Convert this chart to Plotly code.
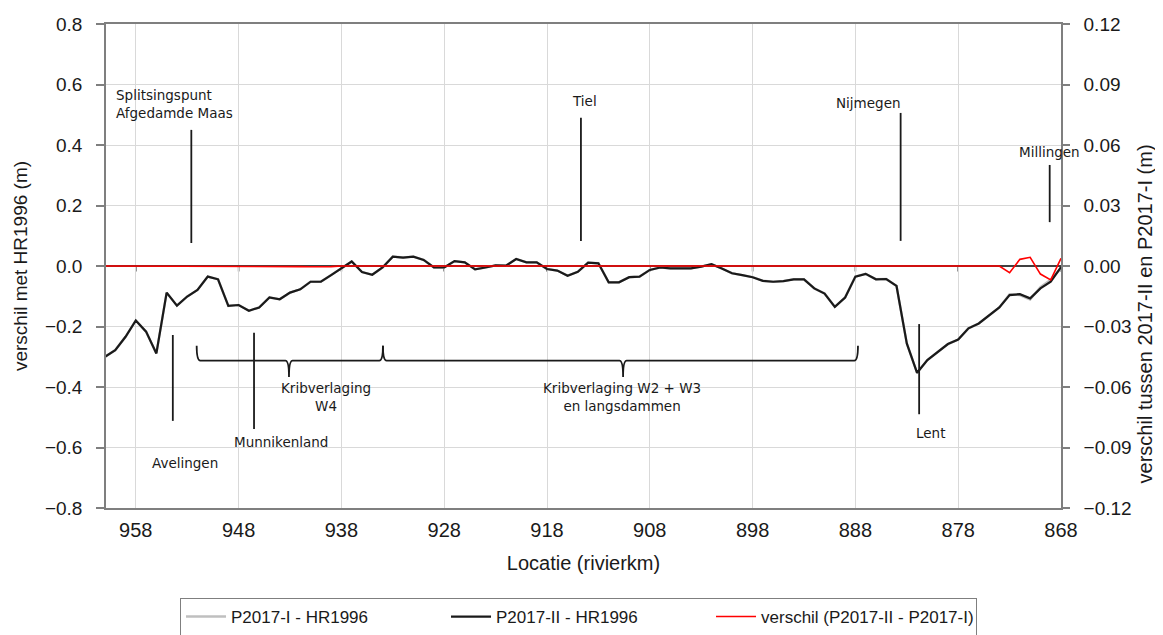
import plotly.graph_objects as go

# ---------------- data ----------------
km = [961, 960, 959, 958, 957, 956, 955, 954, 953, 952, 951, 950, 949, 948, 947, 946,
      945, 944, 943, 942, 941, 940, 939, 938, 937, 936, 935, 934, 933, 932, 931, 930,
      929, 928, 927, 926, 925, 924, 923, 922, 921, 920, 919, 918, 917, 916, 915, 914,
      913, 912, 911, 910, 909, 908, 907, 906, 905, 904, 903, 902, 901, 900, 899, 898,
      897, 896, 895, 894, 893, 892, 891, 890, 889, 888, 887, 886, 885, 884, 883, 882,
      881, 880, 879, 878, 877, 876, 875, 874, 873, 872, 871, 870, 869, 868]

p2017_II = [-0.300, -0.278, -0.234, -0.180, -0.217, -0.289, -0.088, -0.131, -0.101, -0.079,
            -0.035, -0.044, -0.132, -0.129, -0.148, -0.137, -0.104, -0.110, -0.088, -0.077,
            -0.052, -0.052, -0.030, -0.006, 0.015, -0.020, -0.029, -0.005, 0.031, 0.028,
            0.031, 0.020, -0.005, -0.005, 0.016, 0.012, -0.011, -0.005, 0.002, 0.001,
            0.023, 0.012, 0.012, -0.010, -0.015, -0.032, -0.019, 0.011, 0.009, -0.054,
            -0.054, -0.037, -0.035, -0.013, -0.005, -0.008, -0.008, -0.008, -0.002, 0.006,
            -0.008, -0.024, -0.030, -0.037, -0.049, -0.052, -0.050, -0.044, -0.044, -0.074,
            -0.091, -0.135, -0.104, -0.035, -0.026, -0.044, -0.043, -0.066, -0.256, -0.353,
            -0.311, -0.283, -0.258, -0.243, -0.206, -0.190, -0.165, -0.137, -0.096, -0.093,
            -0.107, -0.074, -0.052, -0.004]

p2017_I = [-0.300, -0.278, -0.234, -0.180, -0.217, -0.289, -0.088, -0.131, -0.101, -0.079,
           -0.035, -0.044, -0.132, -0.129, -0.148, -0.137, -0.104, -0.110, -0.088, -0.077,
           -0.052, -0.052, -0.030, -0.006, 0.015, -0.020, -0.029, -0.005, 0.031, 0.028,
           0.031, 0.020, -0.005, -0.005, 0.016, 0.012, -0.011, -0.005, 0.002, 0.001,
           0.023, 0.012, 0.012, -0.010, -0.015, -0.032, -0.019, 0.011, 0.009, -0.054,
           -0.054, -0.037, -0.035, -0.013, -0.005, -0.008, -0.008, -0.008, -0.002, 0.006,
           -0.008, -0.024, -0.030, -0.037, -0.049, -0.052, -0.050, -0.044, -0.044, -0.074,
           -0.091, -0.135, -0.104, -0.035, -0.026, -0.044, -0.043, -0.066, -0.256, -0.353,
           -0.311, -0.283, -0.258, -0.243, -0.206, -0.190, -0.165, -0.137, -0.093, -0.096,
           -0.111, -0.070, -0.045, -0.008]

verschil = [0.0, 0.0, 0.0, 0.0, 0.0, 0.0, 0.0, 0.0, 0.0, 0.0,
            0.0, 0.0, 0.0, 0.0, 0.0, 0.0, 0.0, 0.0, 0.0, -0.0003,
            -0.0004, -0.0004, -0.0003, 0.0, 0.0, -0.0003, -0.0003, 0.0, 0.0, -0.0002,
            -0.0002, 0.0, 0.0, 0.0, 0.0, 0.0, -0.0003, -0.0002, 0.0, 0.0,
            0.0, 0.0, 0.0, 0.0, 0.0, 0.0, 0.0, 0.0, 0.0, -0.0002,
            -0.0002, 0.0, 0.0, 0.0, 0.0, 0.0, 0.0, 0.0, 0.0, 0.0,
            0.0, 0.0, 0.0, 0.0, 0.0, 0.0, 0.0, 0.0, 0.0, 0.0,
            0.0, 0.0, 0.0, -0.0003, -0.0003, 0.0, 0.0, 0.0, 0.0, -0.0002,
            -0.0003, -0.0002, 0.0, 0.0, 0.0, 0.0, 0.0, 0.0, -0.0033, 0.0033,
            0.0043, -0.0040, -0.0069, 0.0038]

x_ticks = [958, 948, 938, 928, 918, 908, 898, 888, 878, 868]
y_ticks = [0.8, 0.6, 0.4, 0.2, 0.0, -0.2, -0.4, -0.6, -0.8]
y2_ticks = [0.12, 0.09, 0.06, 0.03, 0.0, -0.03, -0.06, -0.09, -0.12]

# location labels: (text, km, value, anchor)
labels = [
    ("Splitsingspunt<br>Afgedamde Maas", 960.1, 0.535, "left"),
    ("Tiel", 914.4, 0.545, "center"),
    ("Nijmegen", 886.7, 0.540, "center"),
    ("Millingen", 869.1, 0.377, "center"),
    ("Avelingen", 953.2, -0.650, "center"),
    ("Munnikenland", 943.9, -0.582, "center"),
    ("Lent", 880.7, -0.552, "center"),
    ("Kribverlaging<br>W4", 939.5, -0.432, "center"),
    ("Kribverlaging W2 + W3<br>en langsdammen", 910.7, -0.432, "center"),
]
# location marker lines: (km, value from, value to)
markers = [
    (952.6, 0.450, 0.076),
    (914.7, 0.490, 0.083),
    (883.6, 0.506, 0.083),
    (869.1, 0.334, 0.145),
    (954.4, -0.228, -0.512),
    (946.5, -0.221, -0.539),
    (881.8, -0.192, -0.490),
]
# braces: (km start, km middle, km end)
braces = [(952.08, 943.1, 933.96), (933.96, 910.6, 887.75)]
brace_y, brace_top, brace_bot = -0.313, -0.264, -0.367

# ---------------- figure ----------------
fig = go.Figure()
fig.add_trace(go.Scatter(x=km, y=p2017_I, mode="lines", name="P2017-I - HR1996",
                         line=dict(color="#bfbfbf", width=2.4)))
fig.add_trace(go.Scatter(x=km, y=p2017_II, mode="lines", name="P2017-II - HR1996",
                         line=dict(color="#1a1a1a", width=2.2)))
fig.add_trace(go.Scatter(x=km, y=verschil, mode="lines", name="verschil (P2017-II - P2017-I)",
                         line=dict(color="#ff0000", width=1.6), yaxis="y2"))

shapes = []
# axis ticks on the zero-crossing horizontal axis
for t in x_ticks:
    shapes.append(dict(type="line", xref="x", yref="y", x0=t, x1=t, y0=0, y1=-0.018,
                       line=dict(color="#404040", width=1.5), layer="below"))
for (k, a, b) in markers:
    shapes.append(dict(type="line", xref="x", yref="y", x0=k, x1=k, y0=a, y1=b,
                       line=dict(color="#1a1a1a", width=1.8)))
d = 0.35
for (x0, xm, x1) in braces:
    p = (f"M {x0},{brace_top} Q {x0},{brace_y} {x0 - d},{brace_y} "
         f"L {xm + d},{brace_y} Q {xm},{brace_y} {xm},{brace_bot} "
         f"Q {xm},{brace_y} {xm - d},{brace_y} "
         f"L {x1 + d},{brace_y} Q {x1},{brace_y} {x1},{brace_top}")
    shapes.append(dict(type="path", xref="x", yref="y", path=p,
                       line=dict(color="#1a1a1a", width=1.8)))

annotations = []
for (txt, k, v, anc) in labels:
    annotations.append(dict(text=txt, x=k, y=v, xref="x", yref="y", showarrow=False,
                            xanchor=anc, yanchor="middle", align=anc,
                            font=dict(family="DejaVu Sans", size=13.5, color="#1a1a1a")))
# right axis title
annotations.append(dict(text="verschil tussen 2017-II en P2017-I (m)", textangle=-90,
                        xref="paper", yref="paper", x=1.088, y=0.40, xanchor="center",
                        yanchor="middle", showarrow=False,
                        font=dict(family="Liberation Sans, Arial", size=20, color="#1a1a1a")))

axis_col = "#7f7f7f"
fig.update_layout(
    width=1163, height=635,
    margin=dict(l=98, r=110, t=16, b=135, autoexpand=False),
    paper_bgcolor="white", plot_bgcolor="white",
    font=dict(family="Liberation Sans, Arial", color="#1a1a1a"),
    xaxis=dict(range=[960.9, 868], tickvals=x_ticks, ticktext=[str(t) for t in x_ticks],
               showgrid=True, gridcolor="#d9d9d9", gridwidth=1,
               showline=True, linecolor=axis_col, linewidth=1.5, mirror=True,
               ticks="", tickfont=dict(size=20), ticklabelstandoff=3,
               title=dict(text="Locatie (rivierkm)", font=dict(size=20), standoff=16),
               zeroline=False),
    yaxis=dict(range=[-0.8, 0.8], tickvals=y_ticks, tickformat=".1f",
               showgrid=True, gridcolor="#d9d9d9", gridwidth=1,
               showline=True, linecolor=axis_col, linewidth=1.5,
               ticks="outside", ticklen=8, tickcolor=axis_col, tickwidth=1.5,
               tickfont=dict(size=19), ticklabelstandoff=10,
               zeroline=True, zerolinecolor="#404040", zerolinewidth=1.5,
               title=dict(text="verschil met HR1996 (m)", font=dict(size=19), standoff=12)),
    yaxis2=dict(range=[-0.12, 0.12], tickvals=y2_ticks, tickformat=".2f",
                overlaying="y", side="right", showgrid=False, zeroline=False,
                showline=True, linecolor=axis_col, linewidth=1.5,
                ticks="outside", ticklen=7, tickcolor=axis_col, tickwidth=1.5,
                tickfont=dict(size=19), ticklabelstandoff=10),
    legend=dict(orientation="h", x=0.0775, xanchor="left", y=-0.186, yanchor="top",
                bordercolor="#7f7f7f", borderwidth=1, bgcolor="white",
                font=dict(size=17), entrywidth=210, entrywidthmode="pixels",
                itemwidth=40),
    shapes=shapes,
    annotations=annotations,
    showlegend=True,
)

fig.write_html("out.html")
